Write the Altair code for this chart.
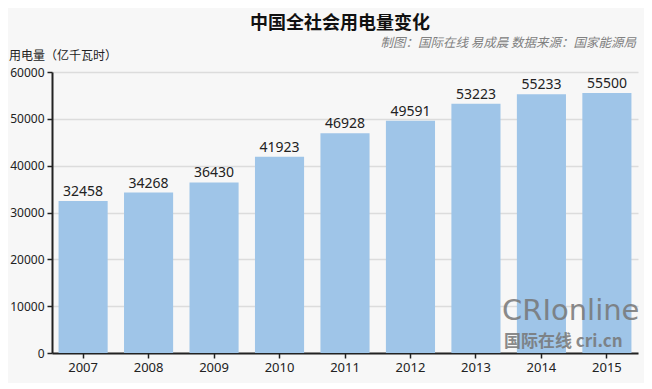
import altair as alt
import pandas as pd

years = ["2007", "2008", "2009", "2010", "2011", "2012", "2013", "2014", "2015"]
values = [32458, 34268, 36430, 41923, 46928, 49591, 53223, 55233, 55500]

title_text = "中国全社会用电量变化"
subtitle_text = "制图：国际在线 易成晨 数据来源：国家能源局"
ylabel_text = "用电量（亿千瓦时）"

df = pd.DataFrame({"year": years, "value": values})

FONT = "Noto Sans"
CJK = "Noto Sans CJK SC"

base = alt.Chart(df)

bars = base.mark_bar(color="#9fc5e8").encode(
    x=alt.X("year:N", sort=years, title=None,
            scale=alt.Scale(paddingInner=0.25, paddingOuter=0.1),
            axis=alt.Axis(labelAngle=0, domainColor="#222", domainWidth=2,
                          tickColor="#222", tickWidth=1.5, tickSize=5,
                          labelFont=FONT, labelFontSize=13, labelColor="#222",
                          labelPadding=3)),
    y=alt.Y("value:Q", title=None,
            scale=alt.Scale(domain=[0, 60000], nice=False),
            axis=alt.Axis(values=[0, 10000, 20000, 30000, 40000, 50000, 60000],
                          format="d",
                          domainColor="#222", domainWidth=2,
                          tickColor="#222", tickWidth=1.5, tickSize=5,
                          gridColor="#dcdcdc", gridWidth=1.5,
                          labelFont=FONT, labelFontSize=12, labelColor="#222",
                          labelPadding=3)),
)

labels = base.mark_text(dy=-9, font=FONT, fontSize=14, color="#222").encode(
    x=alt.X("year:N", sort=years),
    y="value:Q",
    text="value:Q",
)

def note(text, x, y, **kw):
    return alt.Chart(pd.DataFrame({"t": [text]})).mark_text(**kw).encode(
        text="t:N", x=alt.value(x), y=alt.value(y))

title = note(title_text, 288, -48, font=CJK, fontSize=18, fontWeight="bold",
             color="#111", align="center", baseline="middle")
subtitle = note(subtitle_text, 584, -29, font=CJK, fontSize=12.5, fontStyle="italic",
                color="#808080", align="right", baseline="middle")
ylabel = note(ylabel_text, -43, -16, font=CJK, fontSize=12, color="#222",
              align="left", baseline="middle")
wm1 = note("CRIonline", 450, 248, font="DejaVu Sans", fontSize=29, color="#777",
           opacity=0.85, align="left", baseline="alphabetic")
wm2 = note("国际在线 cri.cn", 452, 275, font=CJK, fontSize=17, fontWeight="bold",
           color="#777", opacity=0.85, align="left", baseline="alphabetic")

chart = alt.layer(bars, labels, title, subtitle, ylabel, wm1, wm2).properties(
    width=586, height=281,
    background="#f7f7f7",
    padding={"left": 44, "top": 64, "right": 6, "bottom": 30},
    autosize=alt.AutoSizeParams(type="none"),
).configure_view(stroke=None)

chart.save("out.html", embed_options={"renderer": "svg", "actions": False})
